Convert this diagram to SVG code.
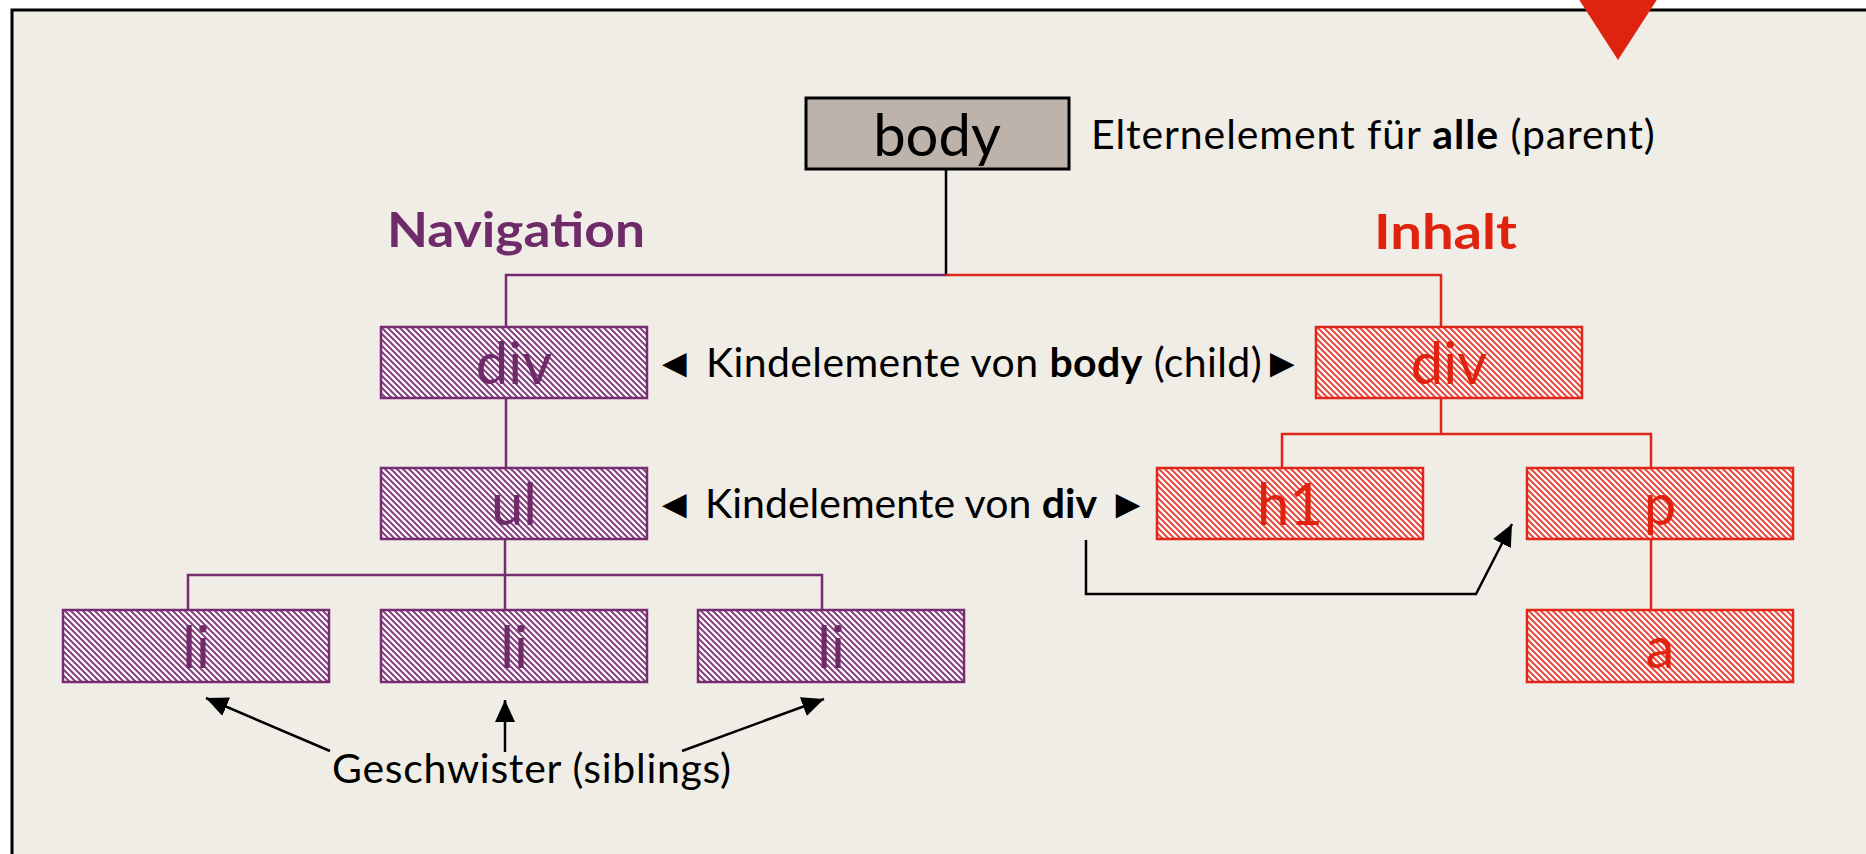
<svg xmlns="http://www.w3.org/2000/svg" width="1866" height="854" viewBox="0 0 1866 854">
<style>
.lbl{font-family:Lato,"Liberation Sans",sans-serif;font-size:41px;fill:#000}
.box{font-family:Lato,"Liberation Sans",sans-serif;font-size:58px;text-anchor:middle}
.hd{font-family:Lato,"Liberation Sans",sans-serif;font-size:48px;font-weight:bold}
.pur{fill:url(#hp);stroke:#762c70;stroke-width:2.5}
.red{fill:url(#hr);stroke:#e0261a;stroke-width:2.5}
.tp{fill:#6f2a6a}
.tr{fill:#e0230f}
.lp{stroke:#762c70;stroke-width:2.5;fill:none}
.lr{stroke:#e0261a;stroke-width:2.5;fill:none}
.lk{stroke:#000;stroke-width:2.5;fill:none}
</style>
<defs>
<pattern id="hp" patternUnits="userSpaceOnUse" width="6" height="6">
<rect width="6" height="6" fill="#fff"/>
<path d="M0,0 L6,6 M-1,5 L1,7 M5,-1 L7,1" stroke="#85407f" stroke-width="2"/>
</pattern>
<pattern id="hr" patternUnits="userSpaceOnUse" width="6" height="6">
<rect width="6" height="6" fill="#fff"/>
<path d="M0,0 L6,6 M-1,5 L1,7 M5,-1 L7,1" stroke="#e8493e" stroke-width="2"/>
</pattern>
<marker id="ah" viewBox="0 0 22 20" refX="22" refY="10" markerWidth="22" markerHeight="20" markerUnits="userSpaceOnUse" orient="auto">
<path d="M0,0 L22,10 L0,20 Z" fill="#000"/>
</marker>
</defs>
<rect width="1866" height="854" fill="#fff"/>
<rect x="12" y="10" width="1860" height="850" fill="#f0ede6"/>
<path d="M12,860 L12,10 L1870,10" stroke="#000" stroke-width="3" fill="none"/>
<polygon points="1578,-2 1658,-2 1618,60" fill="#e0230f"/>

<g id="connectors">
<path class="lk" d="M946,169 L946,275"/>
<path class="lp" d="M946,275 L506,275 L506,327"/>
<path class="lr" d="M946,275 L1441,275 L1441,327"/>
<path class="lp" d="M506,398 L506,468"/>
<path class="lp" d="M505,539 L505,610 M188,610 L188,575 L822,575 L822,610"/>
<path class="lr" d="M1441,398 L1441,434 M1282,468 L1282,434 L1651,434 L1651,468"/>
<path class="lr" d="M1651,468 L1651,610"/>
<path class="lk" d="M1086,540 L1086,594 L1476,594 L1512,524" marker-end="url(#ah)"/>
<path class="lk" d="M330,751 L206,698" marker-end="url(#ah)"/>
<path class="lk" d="M505,752 L505,700" marker-end="url(#ah)"/>
<path class="lk" d="M682,751 L824,699" marker-end="url(#ah)"/>
</g>

<g id="body">
<rect x="806" y="98" width="263" height="71" fill="#bdb3aa" stroke="#000" stroke-width="3"/>
<text class="box" x="937" y="156" fill="#000">body</text>
</g>
<g id="parent-label">
<text class="lbl" x="1091" y="149" font-size="42" letter-spacing="0.9">Elternelement für <tspan font-weight="bold">alle</tspan> (parent)</text>
</g>
<g id="navigation-heading"><text class="hd tp" x="387" y="247" textLength="258" lengthAdjust="spacingAndGlyphs">Navigation</text></g>
<g id="inhalt-heading"><text class="hd tr" x="1374" y="249" textLength="143" lengthAdjust="spacingAndGlyphs">Inhalt</text></g>

<g id="nav-div">
<rect class="pur" x="381" y="327" width="266" height="71"/>
<text class="box tp" x="514" y="384">div</text>
</g>
<g id="child-label">
<text class="lbl" x="654" y="377" letter-spacing="0.4">◄ Kindelemente von <tspan font-weight="bold">body</tspan> (child)►</text>
</g>
<g id="content-div">
<rect class="red" x="1316" y="327" width="266" height="71"/>
<text class="box tr" x="1449" y="384">div</text>
</g>

<g id="ul">
<rect class="pur" x="381" y="468" width="266" height="71"/>
<text class="box tp" x="514" y="525">ul</text>
</g>
<g id="div-child-label">
<text class="lbl" x="654" y="518">◄ Kindelemente von <tspan font-weight="bold">div</tspan> ►</text>
</g>
<g id="h1">
<rect class="red" x="1157" y="468" width="266" height="71"/>
<text class="box tr" x="1290" y="525">h1</text>
</g>
<g id="p">
<rect class="red" x="1527" y="468" width="266" height="71"/>
<text class="box tr" x="1660" y="525">p</text>
</g>
<g id="a">
<rect class="red" x="1527" y="610" width="266" height="72"/>
<text class="box tr" x="1660" y="668">a</text>
</g>

<g id="li1">
<rect class="pur" x="63" y="610" width="266" height="72"/>
<text class="box tp" x="196" y="668">li</text>
</g>
<g id="li2">
<rect class="pur" x="381" y="610" width="266" height="72"/>
<text class="box tp" x="514" y="668">li</text>
</g>
<g id="li3">
<rect class="pur" x="698" y="610" width="266" height="72"/>
<text class="box tp" x="831" y="668">li</text>
</g>
<g id="siblings-label">
<text class="lbl" x="332" y="783" letter-spacing="0.7">Geschwister (siblings)</text>
</g>
</svg>
